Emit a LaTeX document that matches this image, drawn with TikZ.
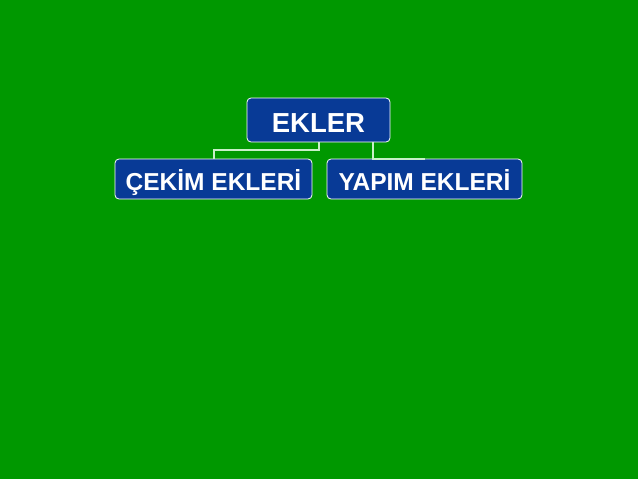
\documentclass[tikz,border=0pt]{standalone}
\usepackage{fontspec}
\setmainfont{Liberation Sans}
\definecolor{slidegreen}{RGB}{0,152,0}
\definecolor{boxblue}{RGB}{8,58,150}
\definecolor{linkgreen}{RGB}{200,240,200}

\begin{document}
\begin{tikzpicture}[x=1pt, y=-1pt,
    ekbox/.style={draw=white, line width=0.8pt, fill=boxblue, rounded corners=4pt,
        text=white, font=\bfseries, inner sep=0pt, align=center, text depth=0pt},
    link/.style={draw=linkgreen, line width=2pt}]
        \fill[slidegreen] (0,0) rectangle (638,479);
        \useasboundingbox (0,0) rectangle (638,479);
        \node[ekbox, minimum width=143pt, minimum height=44pt, text height=24.5pt,
            font=\fontsize{27.5}{30}\bfseries] (Ekler) at (318.5,120) {EKLER};
        \node[ekbox, minimum width=197pt, minimum height=40pt, text height=23pt,
            font=\fontsize{24.5}{28}\bfseries] (Cekim) at (213.5,179) {ÇEKİM EKLERİ};
        \node[ekbox, minimum width=195pt, minimum height=40pt, text height=23pt,
            font=\fontsize{24.5}{28}\bfseries] (Yapim) at (424.5,179) {YAPIM EKLERİ};
        \coordinate (branch) at (373,142);
        \draw[link] (Ekler.south) -- ++(0,8) -| (Cekim.north);
        \draw[link] (branch) |- (Yapim.north);
\end{tikzpicture}
\end{document}
